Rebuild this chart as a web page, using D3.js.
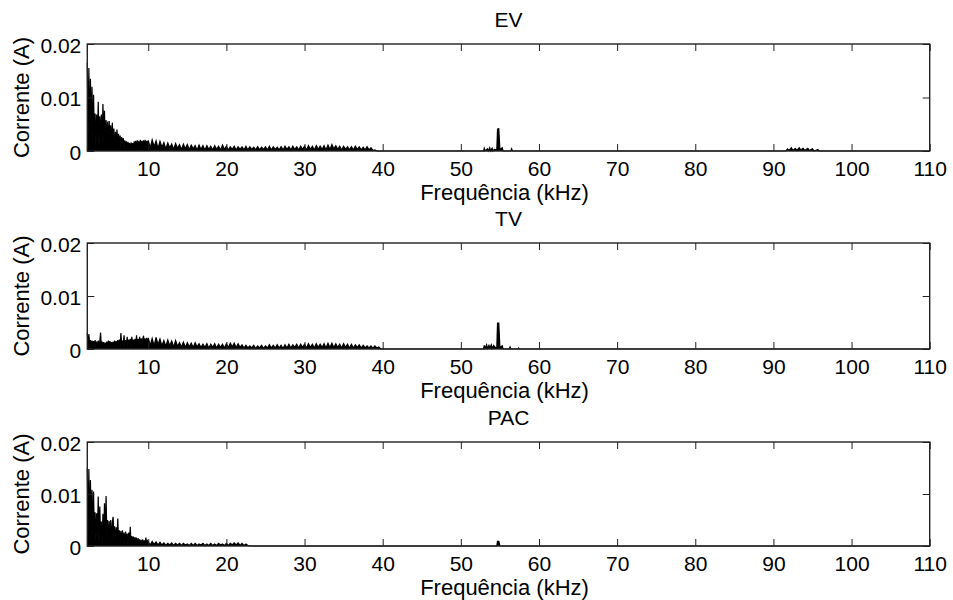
<!DOCTYPE html>
<html lang="pt">
<head>
<meta charset="UTF-8">
<title>Espectro da corrente</title>
<style>
  body { margin: 0; background: #fff; }
  text { font-family: "Liberation Sans", Arial, sans-serif; fill: #000; }
</style>
</head>
<body>
<div id="chart"></div>
<script src="https://d3js.org/d3.v7.min.js"></script>
<script>
// amplitudes in mA
// head: every 0.1 kHz from 2.2 kHz, tail: every 0.25 kHz from 10 kHz,
// then a few isolated components given as (kHz, mA)
var headStart = 2.2, headStep = 0.1;
var tailStart = 10, tailStep = 0.25;

var evHead = [
  16.5, 3.0, 15.5, 2.0, 13.5, 4.0, 12.0, 1.5, 10.5, 3.0,
  7.0, 1.0, 6.8, 2.5, 9.2, 0.8, 6.5, 2.0, 6.8, 1.2,
  8.8, 3.0, 7.5, 0.5, 5.8, 2.0, 5.5, 1.0, 5.6, 2.2,
  4.8, 0.8, 5.3, 1.5, 4.2, 0.6, 3.6, 1.8, 4.0, 0.7,
  3.2, 1.2, 2.9, 0.5, 2.6, 1.0, 2.4, 0.4, 2.0, 0.9,
  1.8, 0.4, 1.7, 0.8, 1.5, 0.3, 1.6, 0.6, 1.5, 0.4,
  1.8, 0.7, 1.9, 0.5, 2.0, 0.8, 1.9, 0.5, 2.1, 0.9,
  1.9, 0.6, 2.0, 0.8, 2.1, 0.5, 1.9, 0.9
];
var evTail = [
  2.0, 0.6, 2.1, 0.8, 1.9, 0.5, 1.8, 0.7,
  1.6, 0.4, 1.5, 0.6, 1.3, 0.3, 1.4, 0.5,
  1.2, 0.3, 1.3, 0.4, 1.2, 0.3, 1.1, 0.4,
  1.0, 0.2, 1.1, 0.3, 1.0, 0.2, 1.0, 0.3,
  0.9, 0.2, 1.0, 0.3, 0.9, 0.2, 1.1, 0.3,
  0.9, 0.2, 0.8, 0.3, 0.9, 0.2, 0.8, 0.3,
  0.8, 0.2, 0.9, 0.2, 0.8, 0.3, 0.7, 0.2,
  0.8, 0.2, 0.7, 0.3, 0.8, 0.2, 0.9, 0.2,
  0.8, 0.3, 0.7, 0.2, 0.8, 0.2, 0.9, 0.3,
  0.8, 0.2, 0.9, 0.3, 0.8, 0.2, 0.9, 0.3,
  0.9, 0.2, 1.0, 0.3, 0.9, 0.2, 1.0, 0.3,
  0.9, 0.3, 1.0, 0.2, 1.1, 0.3, 1.2, 0.4,
  1.0, 0.3, 0.9, 0.2, 0.9, 0.3, 0.8, 0.2,
  0.8, 0.2, 0.9, 0.3, 0.8, 0.2, 0.7, 0.2,
  0.8, 0.2, 0.6, 0.1, 0.2, 0, 0, 0
];
var evSparseF = [40, 52.9, 53.0, 53.1, 53.4, 53.5, 53.7, 53.8, 54.0, 54.1, 54.3, 54.6, 54.7, 54.8, 54.85, 55.0, 55.3, 55.4,
  56.4, 56.5, 56.6, 91.6, 91.8, 92.0, 92.3, 92.5, 92.8, 93.0, 93.3, 93.5, 93.8, 94.0, 94.4, 94.6, 95.0, 95.2, 95.7, 95.8, 110];
var evSparseA = [0, 0, 0.5, 0, 0.4, 0, 0.6, 0, 0.5, 0, 0.3, 0.2, 4.2, 0.5, 4.3, 0.3, 0.6, 0,
  0, 0.4, 0, 0, 0.4, 0.1, 0.6, 0.1, 0.5, 0.1, 0.6, 0.2, 0.5, 0.1, 0.5, 0.1, 0.4, 0, 0.3, 0, 0];

var tvHead = [
  3.0, 0.5, 2.8, 0.8, 1.7, 0.4, 1.6, 0.6, 1.5, 0.3,
  1.7, 0.5, 1.4, 0.3, 1.6, 0.6, 1.5, 3.1, 0.4, 1.4,
  0.5, 1.3, 0.3, 1.2, 0.6, 1.4, 0.3, 1.6, 0.5, 1.5,
  0.4, 1.3, 0.6, 1.4, 0.3, 1.6, 0.5, 1.5, 0.4, 1.7,
  0.6, 1.8, 0.4, 3.0, 0.5, 1.6, 0.6, 2.6, 0.4, 1.7,
  0.7, 2.3, 0.5, 1.8, 0.6, 1.9, 0.4, 2.3, 0.7, 1.8,
  0.5, 1.9, 0.6, 2.6, 0.5, 1.9, 0.7, 2.3, 0.6, 2.0,
  0.8, 1.9, 2.5, 0.6, 2.0, 0.8, 2.1, 0.7
];
var tvTail = [
  2.1, 0.7, 2.0, 0.6, 2.2, 0.8, 1.9, 0.6,
  1.6, 0.5, 1.7, 0.6, 1.5, 0.4, 1.6, 0.5,
  1.2, 0.4, 1.3, 0.3, 1.2, 0.4, 1.1, 0.3,
  1.2, 0.4, 1.0, 0.3, 0.9, 0.3, 1.0, 0.2,
  0.9, 0.3, 1.0, 0.2, 0.9, 0.3, 0.9, 0.2,
  1.0, 0.3, 1.1, 0.4, 1.1, 0.3, 1.0, 0.3,
  0.8, 0.2, 0.7, 0.2, 0.6, 0.2, 0.7, 0.1,
  0.6, 0.2, 0.7, 0.1, 0.6, 0.2, 0.8, 0.2,
  0.7, 0.2, 0.8, 0.2, 0.7, 0.1, 0.8, 0.2,
  0.9, 0.2, 0.8, 0.3, 0.9, 0.2, 0.9, 0.3,
  0.9, 0.2, 1.0, 0.3, 0.9, 0.2, 1.0, 0.3,
  0.9, 0.3, 1.0, 0.2, 1.1, 0.3, 1.1, 0.3,
  1.0, 0.3, 0.9, 0.2, 1.0, 0.3, 0.9, 0.2,
  0.9, 0.2, 0.8, 0.3, 0.8, 0.2, 0.7, 0.2,
  0.6, 0.2, 0.6, 0.1, 0.6, 0.2, 0.4, 0
];
var tvSparseF = [40, 52.9, 53.0, 53.1, 53.3, 53.4, 53.6, 53.7, 53.9, 54.0, 54.2, 54.4, 54.6, 54.7, 54.8, 54.85, 55.0, 55.3, 55.4,
  56.2, 56.3, 56.4, 57.3, 57.4, 57.5, 110];
var tvSparseA = [0, 0, 0.7, 0.1, 0.8, 0.1, 0.7, 0.2, 0.8, 0.1, 0.7, 0.3, 0.2, 5.0, 0.6, 5.0, 0.3, 0.6, 0,
  0, 0.4, 0, 0, 0.2, 0, 0];

var pacHead = [
  15.0, 3.0, 14.8, 2.0, 12.7, 4.0, 10.8, 1.5, 10.5, 2.0,
  6.5, 1.0, 6.3, 2.5, 9.5, 0.8, 7.6, 1.5, 4.7, 0.6,
  6.2, 2.0, 8.2, 1.0, 9.6, 2.2, 5.0, 0.6, 4.8, 1.6,
  5.0, 0.5, 4.4, 5.6, 1.2, 3.8, 0.4, 3.6, 1.4, 5.3,
  0.5, 3.0, 1.0, 2.9, 0.3, 3.0, 0.8, 2.6, 0.4, 2.8,
  0.9, 2.4, 0.3, 2.6, 0.7, 3.7, 0.4, 1.9, 0.6, 1.8,
  0.3, 1.7, 0.5, 1.6, 0.2, 1.5, 0.4, 1.3, 0.2, 1.2,
  0.4, 1.3, 0.2, 1.1, 0.3, 1.6, 0.2, 1.0
];
var pacTail = [
  0.8, 0.2, 0.9, 0.3, 0.8, 0.2, 0.7, 0.2,
  0.6, 0.1, 0.5, 0.2, 0.6, 0.1, 0.5, 0.2,
  0.5, 0.1, 0.5, 0.2, 0.4, 0.1, 0.5, 0.1,
  0.5, 0.1, 0.4, 0.2, 0.5, 0.1, 0.4, 0.1,
  0.5, 0.1, 0.4, 0.1, 0.5, 0.2, 0.4, 0.1,
  0.5, 0.1, 0.5, 0.2, 0.6, 0.2, 0.6, 0.1,
  0.5, 0.1, 0.4, 0.1, 0
];
var pacSparseF = [23.25, 54.6, 54.7, 54.8, 54.85, 55.0, 110];
var pacSparseA = [0, 0, 1.0, 0.3, 1.0, 0, 0];

var titles = ["EV", "TV", "PAC"];
var xTicks = [10, 20, 30, 40, 50, 60, 70, 80, 90, 100, 110];
var yTicks = [0, 10, 20];            // mA
var yTickLabels = ["0", "0.01", "0.02"];
var xLabel = "Frequência (kHz)";
var yLabel = "Corrente (A)";

function buildSeries(head, tail, sf, sa) {
  var pts = [];
  head.forEach(function (v, i) { pts.push([headStart + i * headStep, v]); });
  tail.forEach(function (v, i) { pts.push([tailStart + i * tailStep, v]); });
  sf.forEach(function (f, i) { pts.push([f, sa[i]]); });
  return pts;
}

var series = [
  buildSeries(evHead, evTail, evSparseF, evSparseA),
  buildSeries(tvHead, tvTail, tvSparseF, tvSparseA),
  buildSeries(pacHead, pacTail, pacSparseF, pacSparseA)
];

var width = 953, height = 600;
var left = 87.3, right = 929.7;
var panels = [[44, 151], [243, 349], [442, 546]];

var svg = d3.select("#chart").append("svg")
  .attr("width", width)
  .attr("height", height);

var x = d3.scaleLinear().domain([2.2, 110]).range([left, right]);

series.forEach(function (data, k) {
  var top = panels[k][0], bottom = panels[k][1];
  var y = d3.scaleLinear().domain([0, 20]).range([bottom, top]);

  var g = svg.append("g");

  // dense spectrum: fill under the trace, then the trace itself
  var area = d3.area()
    .x(function (d) { return x(d[0]); })
    .y0(y(0))
    .y1(function (d) { return y(d[1]); });
  var line = d3.line()
    .x(function (d) { return x(d[0]); })
    .y(function (d) { return y(d[1]); });
  g.append("path")
    .datum(data)
    .attr("fill", "#000")
    .attr("d", area);
  g.append("path")
    .datum(data)
    .attr("fill", "none")
    .attr("stroke", "#000")
    .attr("stroke-width", 1.2)
    .attr("d", line);

  // axes, ticks pointing inwards on all four sides
  var xb = g.append("g")
    .attr("transform", "translate(0," + bottom + ")")
    .call(d3.axisBottom(x).tickValues(xTicks).tickSizeInner(-7).tickSizeOuter(0).tickPadding(10));
  var xt = g.append("g")
    .attr("transform", "translate(0," + top + ")")
    .call(d3.axisTop(x).tickValues(xTicks).tickSizeInner(-7).tickSizeOuter(0).tickFormat(""));
  var yl = g.append("g")
    .attr("transform", "translate(" + left + ",0)")
    .call(d3.axisLeft(y).tickValues(yTicks).tickSizeInner(-7).tickSizeOuter(0).tickPadding(6)
      .tickFormat(function (d, i) { return yTickLabels[i]; }));
  var yr = g.append("g")
    .attr("transform", "translate(" + right + ",0)")
    .call(d3.axisRight(y).tickValues(yTicks).tickSizeInner(-7).tickSizeOuter(0).tickFormat(""));

  [xb, xt, yl, yr].forEach(function (a) {
    a.select(".domain").remove();
    a.selectAll("line").attr("stroke", "#222").attr("stroke-width", 1);
    a.selectAll("text").attr("font-size", 21).attr("fill", "#000")
      .style("font-family", "'Liberation Sans', Arial, sans-serif");
  });
  yl.selectAll("text").attr("dy", "0.4em");

  // box
  g.append("rect")
    .attr("x", left).attr("y", top)
    .attr("width", right - left).attr("height", bottom - top)
    .attr("fill", "none").attr("stroke", "#222").attr("stroke-width", 1.4);

  // texts
  g.append("text")
    .attr("x", (left + right) / 2).attr("y", top - 17)
    .attr("text-anchor", "middle").attr("font-size", 21)
    .text(titles[k]);
  g.append("text")
    .attr("x", (left + right) / 2 - 4).attr("y", bottom + 49)
    .attr("text-anchor", "middle").attr("font-size", 22)
    .text(xLabel);
  g.append("text")
    .attr("transform", "translate(29," + ((top + bottom) / 2) + ") rotate(-90)")
    .attr("text-anchor", "middle").attr("font-size", 22)
    .text(yLabel);
});
</script>
</body>
</html>
